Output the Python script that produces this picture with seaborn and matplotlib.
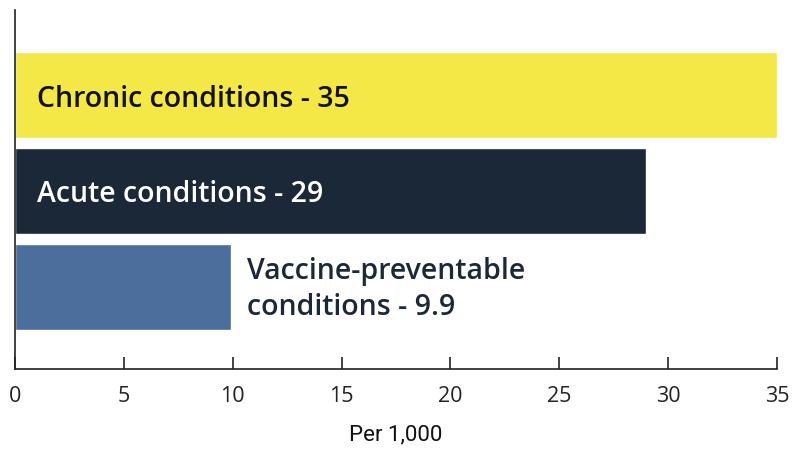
import matplotlib.pyplot as plt
import seaborn as sns
import pandas as pd

categories = ['Chronic conditions', 'Acute conditions', 'Vaccine-preventable\nconditions']
values = [35, 29, 9.9]
labels = ['Chronic conditions - 35', 'Acute conditions - 29', 'Vaccine-preventable\nconditions - 9.9']
colors = ['#F3E845', '#1B2838', '#4B6E9C']
text_colors = ['#111111', '#FFFFFF', '#1B2838']

df = pd.DataFrame({'category': categories, 'value': values})

sns.set_style('white')
plt.rcParams['font.family'] = ['Open Sans', 'DejaVu Sans']

fig = plt.figure(figsize=(7.92, 4.5), dpi=100)
ax = fig.add_axes([15 / 792, 1 - 369 / 450, 762 / 792, 359 / 450])

sns.barplot(data=df, x='value', y='category', hue='category', palette=colors,
            width=0.9, legend=False, ax=ax, saturation=1)

# labels inside the two long bars, beside the short one
for i, (v, lab) in enumerate(zip(values, labels)):
    if v > 20:
        ax.text(1.0, i + 0.04, lab, va='center', ha='left', fontsize=20.5,
                fontweight='semibold', color=text_colors[i])
    else:
        ax.text(v + 0.75, i + 0.03, lab, va='center', ha='left', fontsize=20.5,
                fontweight='semibold', color=text_colors[i], linespacing=1.3)

ax.set_xlim(0, 35)
ax.set_ylim(2.86, -0.89)
ax.set_xticks(range(0, 36, 5))
ax.set_yticks([])
ax.set_ylabel('')
ax.set_xlabel('Per 1,000', fontsize=16, labelpad=13, family='Roboto', color='#111111')
ax.tick_params(axis='x', bottom=True, direction='in', length=9, width=1.2,
               color='#222222', labelsize=15.5, labelcolor='#222222', pad=12)

sns.despine(ax=ax)
for s in ['left', 'bottom']:
    ax.spines[s].set_color('#222222')
    ax.spines[s].set_linewidth(1.2)

fig.savefig('out.png', dpi=100)
